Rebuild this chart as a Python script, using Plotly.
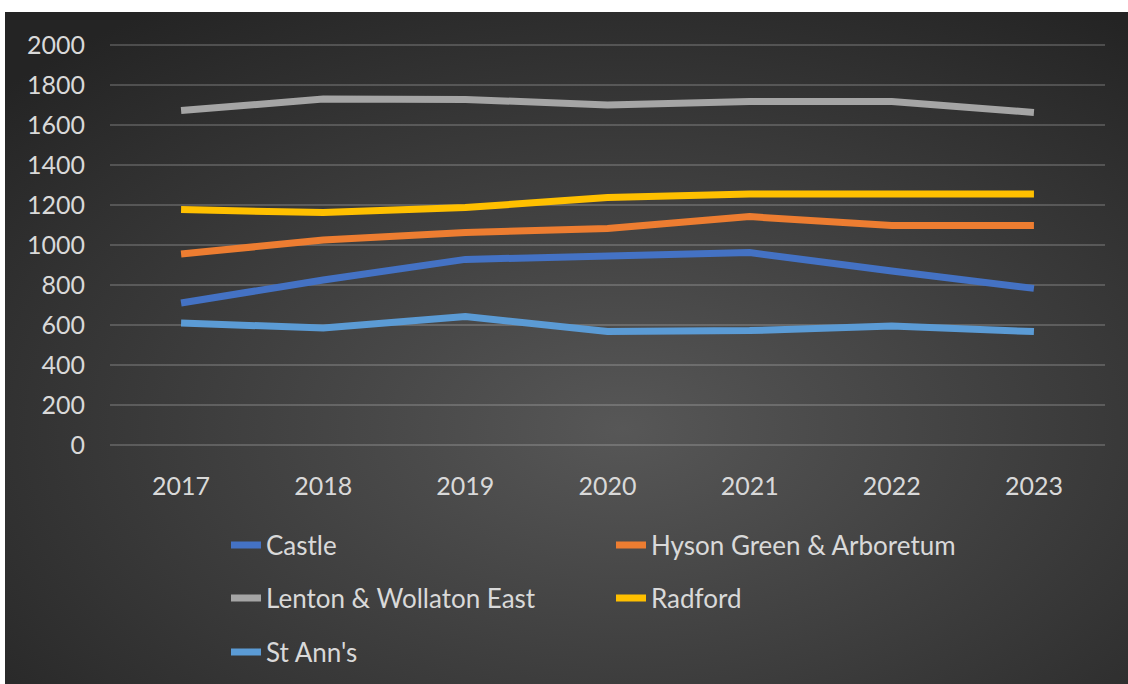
import plotly.graph_objects as go

years = ["2017", "2018", "2019", "2020", "2021", "2022", "2023"]
castle = [710, 825, 928, 945, 962, 870, 783]
hyson = [955, 1025, 1062, 1083, 1142, 1097, 1097]
lenton = [1672, 1730, 1728, 1700, 1717, 1717, 1663]
radford = [1177, 1162, 1187, 1238, 1255, 1254, 1255]
st_anns = [610, 585, 642, 567, 572, 595, 567]

series = [
    ("Castle", castle, "#4472C4", "legend"),
    ("Hyson Green & Arboretum", hyson, "#ED7D31", "legend"),
    ("Lenton & Wollaton East", lenton, "#A5A5A5", "legend2"),
    ("Radford", radford, "#FFC000", "legend2"),
    ("St Ann's", st_anns, "#5B9BD5", "legend3"),
]

W, H = 1128, 684
L, R, T, B = 110, 23, 43, 237
pw, ph = W - L - R, H - T - B

def px_to_paper_x(px):
    return (px - L) / pw

def py_to_paper_y(py):
    return (H - B - py) / ph

fig = go.Figure()
for name, vals, color, lg in series:
    fig.add_trace(go.Scatter(
        x=years, y=vals, name=name, mode="lines",
        line=dict(color=color, width=7),
        legend=lg,
    ))

svg = ("data:image/svg+xml;utf8,"
       "<svg xmlns='http://www.w3.org/2000/svg' width='1123' height='672' viewBox='0 0 1123 672' preserveAspectRatio='none'>"
       "<defs><radialGradient id='g' cx='55%25' cy='62%25' r='75%25'>"
       "<stop offset='0%25' stop-color='%23575757'/>"
       "<stop offset='100%25' stop-color='%23242424'/>"
       "</radialGradient></defs>"
       "<rect width='1123' height='672' fill='url(%23g)'/></svg>")

x0 = px_to_paper_x(5)
x1 = px_to_paper_x(1128)
y0 = py_to_paper_y(12)
y1 = py_to_paper_y(684)
fig.add_layout_image(dict(
    source=svg, xref="paper", yref="paper",
    x=x0, y=y0, sizex=x1 - x0, sizey=y0 - y1,
    xanchor="left", yanchor="top", sizing="stretch", layer="below",
))

font_family = "Lato, 'Open Sans', sans-serif"
txt_color = "#D9D9D9"
grid_color = "rgba(217,217,217,0.22)"

legend_common = dict(
    orientation="h", xanchor="left", yanchor="middle",
    x=px_to_paper_x(226), entrywidth=340, entrywidthmode="pixels",
    bgcolor="rgba(0,0,0,0)", font=dict(family=font_family, size=26, color=txt_color),
    itemclick=False, itemdoubleclick=False,
)

fig.update_layout(
    width=W, height=H,
    margin=dict(l=L, r=R, t=T, b=B, pad=0, autoexpand=False),
    paper_bgcolor="white",
    plot_bgcolor="rgba(0,0,0,0)",
    font=dict(family=font_family, size=25, color=txt_color),
    showlegend=True,
    legend=dict(legend_common, y=py_to_paper_y(545)),
    legend2=dict(legend_common, y=py_to_paper_y(598)),
    legend3=dict(legend_common, y=py_to_paper_y(652)),
    xaxis=dict(
        type="category", range=[-0.5, 6.5], showgrid=False, zeroline=False, showline=False,
        tickfont=dict(family=font_family, size=25, color=txt_color),
        ticklabelstandoff=22, ticks="",
    ),
    yaxis=dict(
        range=[-10, 2010], dtick=200, tick0=0, showgrid=True, gridcolor=grid_color,
        gridwidth=1.5, zeroline=False, showline=False,
        tickfont=dict(family=font_family, size=25, color=txt_color),
        ticklabelstandoff=24, ticks="",
    ),
)

fig.write_html("out.html", config={"displayModeBar": False},
               post_script="document.body.style.margin='0';")
